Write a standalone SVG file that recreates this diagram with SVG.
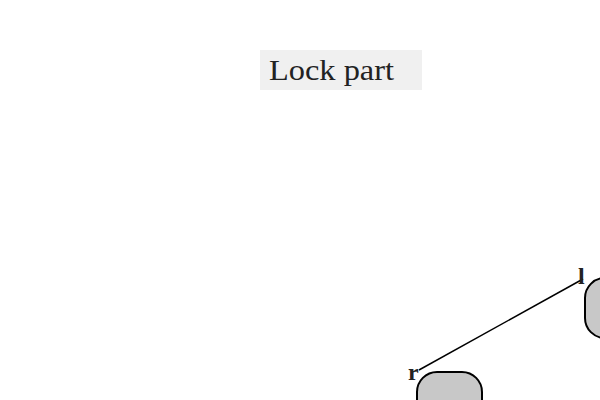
<svg xmlns="http://www.w3.org/2000/svg" width="600" height="400" viewBox="0 0 600 400">
<style>
.node{fill:#c8c8c8;stroke:#000;stroke-width:2}
.lbl{font-family:"Liberation Serif","DejaVu Serif",serif;font-weight:bold;font-size:24px;fill:#222}
.edge{stroke:#000;stroke-width:1.5;fill:none}
.title{font-family:"Liberation Serif","DejaVu Serif",serif;font-size:29px;fill:#222}
</style>
<rect x="260" y="50" width="162" height="40" fill="#f0f0f0"/>
<text class="title" x="269" y="80" textLength="125" lengthAdjust="spacingAndGlyphs">Lock part</text>
<g id="connectors">
<line class="edge" x1="583" y1="279" x2="419" y2="370"/>
</g>
<g id="node-l">
<rect class="node" x="585" y="278" width="80" height="60" rx="20" ry="20"/>
<text class="lbl" x="578" y="284">l</text>
</g>
<g id="node-r">
<rect class="node" x="417" y="372" width="65" height="60" rx="20" ry="20"/>
<text class="lbl" x="408" y="380">r</text>
</g>
</svg>
